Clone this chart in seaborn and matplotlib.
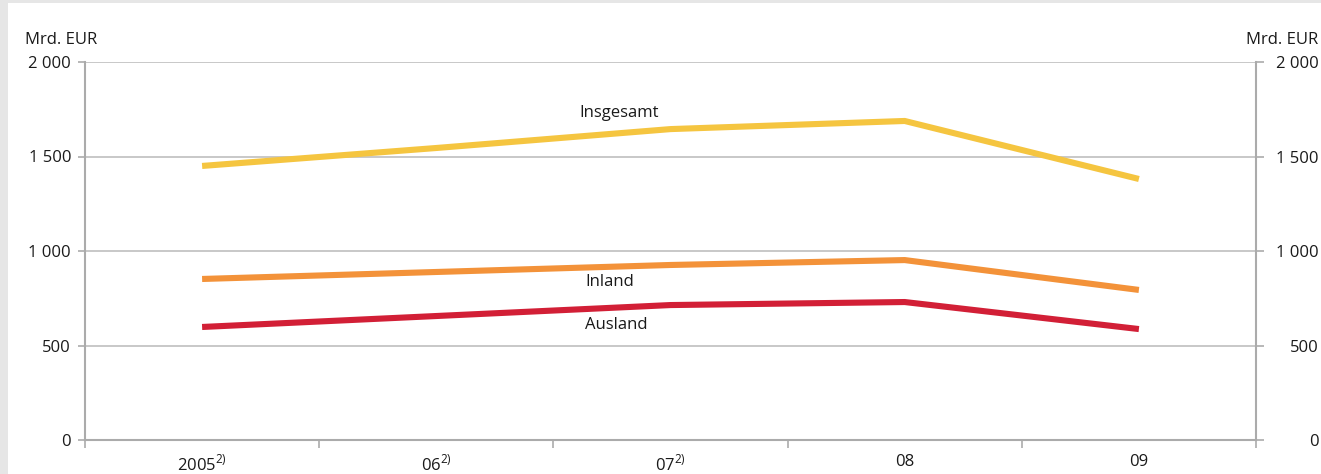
import pandas as pd
import numpy as np
import seaborn as sns
import matplotlib.pyplot as plt
from matplotlib.patches import Rectangle

# Data (Mrd. EUR)
years = ["2005$^{2)}$", "06$^{2)}$", "07$^{2)}$", "08", "09"]
insgesamt = [1450, 1545, 1645, 1688, 1381]
inland = [852, 889, 926, 952, 794]
ausland = [598, 656, 714, 730, 587]
yticks = [0, 500, 1000, 1500, 2000]
ytick_labels = ["0", "500", "1 000", "1 500", "2 000"]

df = pd.DataFrame({
    "x": list(range(len(years))) * 3,
    "wert": insgesamt + inland + ausland,
    "reihe": ["Insgesamt"] * 5 + ["Inland"] * 5 + ["Ausland"] * 5,
})
colors = {"Insgesamt": "#f5c540", "Inland": "#f39239", "Ausland": "#d21f36"}

sns.set_theme(style="white")
plt.rcParams["font.family"] = ["Open Sans", "DejaVu Sans"]
plt.rcParams["mathtext.fontset"] = "custom"
plt.rcParams["mathtext.rm"] = "Open Sans"

fs = 12
txt = "#1a1a1a"

W, H = 1321, 474
fig = plt.figure(figsize=(W / 100, H / 100), dpi=100, facecolor="#e6e6e6")
# white panel behind everything
fig.patches.append(Rectangle((8 / W, 0), 1 - 8 / W, 1 - 3 / H,
                             transform=fig.transFigure, facecolor="white",
                             edgecolor="none", zorder=-10))

ax = fig.add_axes([85 / W, 1 - 440 / H, (1256 - 85) / W, (440 - 62) / H])
ax.set_facecolor("none")

sns.lineplot(data=df, x="x", y="wert", hue="reihe", palette=colors,
             linewidth=4.4, legend=False, ax=ax, solid_capstyle="butt", zorder=3)

ax.set_xlim(-0.5, len(years) - 0.5)
ax.set_ylim(0, 2000)
ax.set_xlabel("")
ax.set_ylabel("")

# grid
for v in yticks[1:]:
    ax.axhline(v, color="#c4c4c4", lw=1.3, zorder=1)

gray = "#ababab"
for s in ["left", "right", "bottom"]:
    ax.spines[s].set_visible(True)
    ax.spines[s].set_color(gray)
    ax.spines[s].set_linewidth(1.5)
ax.spines["top"].set_visible(False)

ax.set_yticks(yticks)
ax.set_yticklabels(ytick_labels)
ax.tick_params(axis="y", left=True, length=5, width=1.2, color=gray, pad=5,
               labelsize=fs, labelcolor=txt)

ax.set_xticks(range(len(years)))
ax.set_xticklabels(years)
ax.set_xticks(np.arange(-0.5, len(years)), minor=True)
ax.tick_params(axis="x", which="major", length=0, pad=10, labelsize=fs,
               labelcolor=txt)
ax.tick_params(axis="x", which="minor", bottom=True, length=6, width=1.2, color=gray)

ax2 = ax.twinx()
ax2.set_ylim(0, 2000)
ax2.set_yticks(yticks)
ax2.set_yticklabels(ytick_labels, ha="right")
ax2.tick_params(axis="y", right=True, length=6, width=1.2, color=gray, pad=39,
                labelsize=fs, labelcolor=txt)
for s in ax2.spines.values():
    s.set_visible(False)

fig.text(25 / W, 1 - 40 / H, "Mrd. EUR", fontsize=fs, va="center", ha="left", color=txt)
fig.text(1318 / W, 1 - 40 / H, "Mrd. EUR", fontsize=fs, va="center", ha="right", color=txt)

ax.text(1.78, 1730, "Insgesamt", ha="center", va="center", fontsize=fs, color=txt)
ax.text(1.74, 836, "Inland", ha="center", va="center", fontsize=fs, color=txt)
ax.text(1.77, 608, "Ausland", ha="center", va="center", fontsize=fs, color=txt)

fig.savefig("out.png", dpi=100, facecolor=fig.get_facecolor())
